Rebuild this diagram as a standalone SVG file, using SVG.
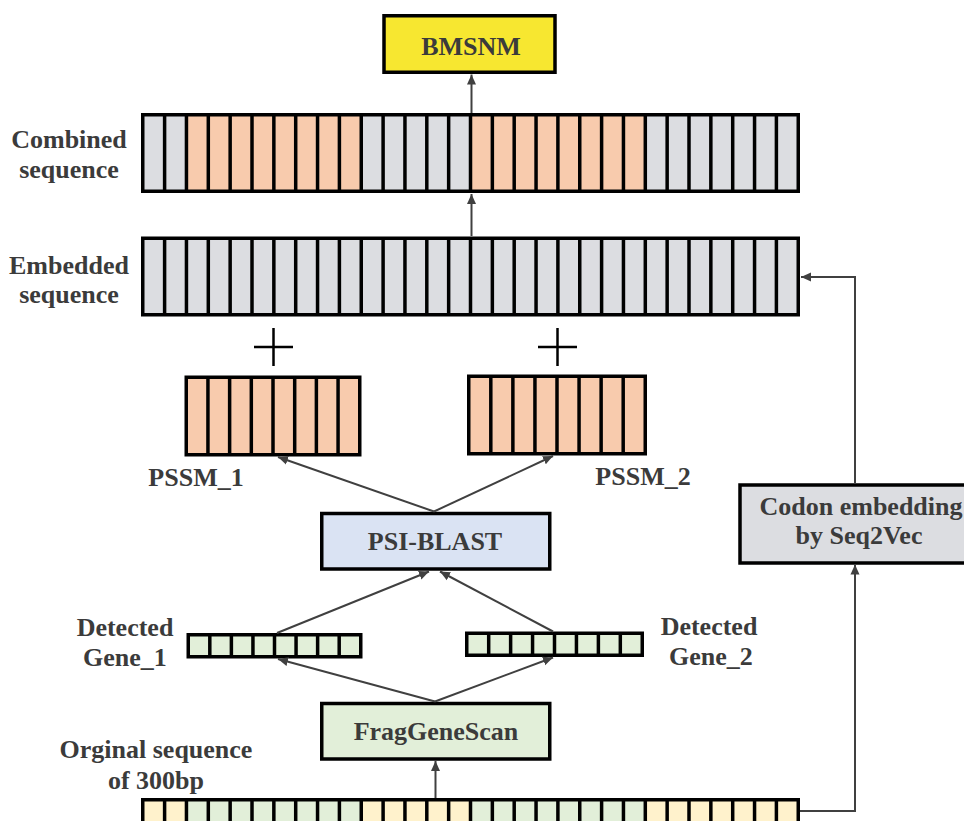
<svg xmlns="http://www.w3.org/2000/svg" width="964" height="821" viewBox="0 0 964 821">
<defs>
<style>
text{font-family:"Liberation Serif","Times New Roman",serif;font-weight:bold;font-size:26px;fill:#3b3b3b;text-anchor:middle}
.frame{fill:#000}
.gy{fill:#dcdde1}
.pc{fill:#f8cbad}
.gr{fill:#e2efd9}
.yl{fill:#fff2cc}
.box{stroke:#000;stroke-width:3.5}
.conn{fill:none;stroke:#404040;stroke-width:2}
.plus{stroke:#000;stroke-width:2.5}
</style>
<marker id="arr" viewBox="0 0 10 10" refX="10" refY="5" markerWidth="10" markerHeight="10" markerUnits="userSpaceOnUse" orient="auto">
<path d="M0,0.5 L10,5 L0,9.5 z" fill="#404040"/>
</marker>
</defs>
<rect width="964" height="821" fill="#fff"/>

<g id="bmsnm">
<rect class="box" x="384" y="15.75" width="171" height="56.5" fill="#f7e730"/>
<text x="471" y="55">BMSNM</text>
</g>

<g id="combined-sequence">
<rect class="frame" x="141" y="113" width="659" height="80"/>
<g transform="translate(0,116.5)">
<rect class="gy" x="144.5" width="18.35" height="73"/>
<rect class="gy" x="166.35" width="18.35" height="73"/>
<rect class="pc" x="188.2" width="18.35" height="73"/>
<rect class="pc" x="210.05" width="18.35" height="73"/>
<rect class="pc" x="231.9" width="18.35" height="73"/>
<rect class="pc" x="253.75" width="18.35" height="73"/>
<rect class="pc" x="275.6" width="18.35" height="73"/>
<rect class="pc" x="297.45" width="18.35" height="73"/>
<rect class="pc" x="319.3" width="18.35" height="73"/>
<rect class="pc" x="341.15" width="18.35" height="73"/>
<rect class="gy" x="363" width="18.35" height="73"/>
<rect class="gy" x="384.85" width="18.35" height="73"/>
<rect class="gy" x="406.7" width="18.35" height="73"/>
<rect class="gy" x="428.55" width="18.35" height="73"/>
<rect class="gy" x="450.4" width="18.35" height="73"/>
<rect class="pc" x="472.25" width="18.35" height="73"/>
<rect class="pc" x="494.1" width="18.35" height="73"/>
<rect class="pc" x="515.95" width="18.35" height="73"/>
<rect class="pc" x="537.8" width="18.35" height="73"/>
<rect class="pc" x="559.65" width="18.35" height="73"/>
<rect class="pc" x="581.5" width="18.35" height="73"/>
<rect class="pc" x="603.35" width="18.35" height="73"/>
<rect class="pc" x="625.2" width="18.35" height="73"/>
<rect class="gy" x="647.05" width="18.35" height="73"/>
<rect class="gy" x="668.9" width="18.35" height="73"/>
<rect class="gy" x="690.75" width="18.35" height="73"/>
<rect class="gy" x="712.6" width="18.35" height="73"/>
<rect class="gy" x="734.45" width="18.35" height="73"/>
<rect class="gy" x="756.3" width="18.35" height="73"/>
<rect class="gy" x="778.15" width="18.35" height="73"/>
</g>
<text x="69" y="148">Combined</text>
<text x="69" y="178">sequence</text>
</g>

<g id="embedded-sequence">
<rect class="frame" x="141" y="236.5" width="659" height="80"/>
<g transform="translate(0,240)">
<rect class="gy" x="144.5" width="18.35" height="73"/>
<rect class="gy" x="166.35" width="18.35" height="73"/>
<rect class="gy" x="188.2" width="18.35" height="73"/>
<rect class="gy" x="210.05" width="18.35" height="73"/>
<rect class="gy" x="231.9" width="18.35" height="73"/>
<rect class="gy" x="253.75" width="18.35" height="73"/>
<rect class="gy" x="275.6" width="18.35" height="73"/>
<rect class="gy" x="297.45" width="18.35" height="73"/>
<rect class="gy" x="319.3" width="18.35" height="73"/>
<rect class="gy" x="341.15" width="18.35" height="73"/>
<rect class="gy" x="363" width="18.35" height="73"/>
<rect class="gy" x="384.85" width="18.35" height="73"/>
<rect class="gy" x="406.7" width="18.35" height="73"/>
<rect class="gy" x="428.55" width="18.35" height="73"/>
<rect class="gy" x="450.4" width="18.35" height="73"/>
<rect class="gy" x="472.25" width="18.35" height="73"/>
<rect class="gy" x="494.1" width="18.35" height="73"/>
<rect class="gy" x="515.95" width="18.35" height="73"/>
<rect class="gy" x="537.8" width="18.35" height="73"/>
<rect class="gy" x="559.65" width="18.35" height="73"/>
<rect class="gy" x="581.5" width="18.35" height="73"/>
<rect class="gy" x="603.35" width="18.35" height="73"/>
<rect class="gy" x="625.2" width="18.35" height="73"/>
<rect class="gy" x="647.05" width="18.35" height="73"/>
<rect class="gy" x="668.9" width="18.35" height="73"/>
<rect class="gy" x="690.75" width="18.35" height="73"/>
<rect class="gy" x="712.6" width="18.35" height="73"/>
<rect class="gy" x="734.45" width="18.35" height="73"/>
<rect class="gy" x="756.3" width="18.35" height="73"/>
<rect class="gy" x="778.15" width="18.35" height="73"/>
</g>
<text x="69" y="274">Embedded</text>
<text x="69" y="303">sequence</text>
</g>

<g id="plus-1">
<line class="plus" x1="254" y1="347" x2="293" y2="347"/>
<line class="plus" x1="273.5" y1="328" x2="273.5" y2="366"/>
</g>
<g id="plus-2">
<line class="plus" x1="538" y1="347" x2="577" y2="347"/>
<line class="plus" x1="557.5" y1="328" x2="557.5" y2="366"/>
</g>

<g id="pssm-1">
<rect class="frame" x="184.5" y="375.5" width="177" height="81"/>
<g transform="translate(0,379)">
<rect class="pc" x="188" width="18.19" height="74"/>
<rect class="pc" x="209.69" width="18.19" height="74"/>
<rect class="pc" x="231.38" width="18.19" height="74"/>
<rect class="pc" x="253.06" width="18.19" height="74"/>
<rect class="pc" x="274.75" width="18.19" height="74"/>
<rect class="pc" x="296.44" width="18.19" height="74"/>
<rect class="pc" x="318.13" width="18.19" height="74"/>
<rect class="pc" x="339.81" width="18.19" height="74"/>
</g>
<text x="196" y="486">PSSM_1</text>
</g>

<g id="pssm-2">
<rect class="frame" x="467" y="374.5" width="180" height="81"/>
<g transform="translate(0,378)">
<rect class="pc" x="470.5" width="18.56" height="74"/>
<rect class="pc" x="492.56" width="18.56" height="74"/>
<rect class="pc" x="514.63" width="18.56" height="74"/>
<rect class="pc" x="536.69" width="18.56" height="74"/>
<rect class="pc" x="558.75" width="18.56" height="74"/>
<rect class="pc" x="580.81" width="18.56" height="74"/>
<rect class="pc" x="602.88" width="18.56" height="74"/>
<rect class="pc" x="624.94" width="18.56" height="74"/>
</g>
<text x="643" y="485">PSSM_2</text>
</g>

<g id="psi-blast">
<rect class="box" x="321.75" y="513.5" width="228" height="55.5" fill="#dae3f3"/>
<text x="435" y="550">PSI-BLAST</text>
</g>

<g id="codon-embedding">
<rect class="box" x="740" y="485" width="240" height="78" fill="#dcdde1"/>
<text x="861" y="515">Codon embedding</text>
<text x="859" y="544">by Seq2Vec</text>
</g>

<g id="gene-1">
<rect class="frame" x="186.5" y="633" width="176" height="25.5"/>
<g transform="translate(0,636.5)">
<rect class="gr" x="190" width="18.06" height="18.5"/>
<rect class="gr" x="211.56" width="18.06" height="18.5"/>
<rect class="gr" x="233.13" width="18.06" height="18.5"/>
<rect class="gr" x="254.69" width="18.06" height="18.5"/>
<rect class="gr" x="276.25" width="18.06" height="18.5"/>
<rect class="gr" x="297.81" width="18.06" height="18.5"/>
<rect class="gr" x="319.38" width="18.06" height="18.5"/>
<rect class="gr" x="340.94" width="18.06" height="18.5"/>
</g>
<text x="125" y="636">Detected</text>
<text x="125" y="666">Gene_1</text>
</g>

<g id="gene-2">
<rect class="frame" x="465" y="631.5" width="179" height="25.5"/>
<g transform="translate(0,635)">
<rect class="gr" x="468.5" width="18.44" height="18.5"/>
<rect class="gr" x="490.44" width="18.44" height="18.5"/>
<rect class="gr" x="512.38" width="18.44" height="18.5"/>
<rect class="gr" x="534.31" width="18.44" height="18.5"/>
<rect class="gr" x="556.25" width="18.44" height="18.5"/>
<rect class="gr" x="578.19" width="18.44" height="18.5"/>
<rect class="gr" x="600.13" width="18.44" height="18.5"/>
<rect class="gr" x="622.06" width="18.44" height="18.5"/>
</g>
<text x="709" y="635">Detected</text>
<text x="711" y="665">Gene_2</text>
</g>

<g id="fraggenescan">
<rect class="box" x="321.75" y="703.5" width="228" height="55.5" fill="#e2efd9"/>
<text x="436" y="740">FragGeneScan</text>
</g>

<g id="original-sequence">
<rect class="frame" x="141" y="798" width="659" height="40"/>
<g transform="translate(0,801.5)">
<rect class="yl" x="144.5" width="18.35" height="40"/>
<rect class="yl" x="166.35" width="18.35" height="40"/>
<rect class="gr" x="188.2" width="18.35" height="40"/>
<rect class="gr" x="210.05" width="18.35" height="40"/>
<rect class="gr" x="231.9" width="18.35" height="40"/>
<rect class="gr" x="253.75" width="18.35" height="40"/>
<rect class="gr" x="275.6" width="18.35" height="40"/>
<rect class="gr" x="297.45" width="18.35" height="40"/>
<rect class="gr" x="319.3" width="18.35" height="40"/>
<rect class="gr" x="341.15" width="18.35" height="40"/>
<rect class="yl" x="363" width="18.35" height="40"/>
<rect class="yl" x="384.85" width="18.35" height="40"/>
<rect class="yl" x="406.7" width="18.35" height="40"/>
<rect class="yl" x="428.55" width="18.35" height="40"/>
<rect class="yl" x="450.4" width="18.35" height="40"/>
<rect class="gr" x="472.25" width="18.35" height="40"/>
<rect class="gr" x="494.1" width="18.35" height="40"/>
<rect class="gr" x="515.95" width="18.35" height="40"/>
<rect class="gr" x="537.8" width="18.35" height="40"/>
<rect class="gr" x="559.65" width="18.35" height="40"/>
<rect class="gr" x="581.5" width="18.35" height="40"/>
<rect class="gr" x="603.35" width="18.35" height="40"/>
<rect class="gr" x="625.2" width="18.35" height="40"/>
<rect class="yl" x="647.05" width="18.35" height="40"/>
<rect class="yl" x="668.9" width="18.35" height="40"/>
<rect class="yl" x="690.75" width="18.35" height="40"/>
<rect class="yl" x="712.6" width="18.35" height="40"/>
<rect class="yl" x="734.45" width="18.35" height="40"/>
<rect class="yl" x="756.3" width="18.35" height="40"/>
<rect class="yl" x="778.15" width="18.35" height="40"/>
</g>
<text x="156" y="758">Orginal sequence</text>
<text x="156" y="789">of 300bp</text>
</g>

<g id="connectors">
<line class="conn" x1="471.5" y1="113" x2="471.5" y2="74.5" marker-end="url(#arr)"/>
<line class="conn" x1="471.5" y1="236" x2="471.5" y2="194" marker-end="url(#arr)"/>
<path class="conn" d="M855,483 V277 H801" marker-end="url(#arr)"/>
<path class="conn" d="M800,811 H855 V564.5" marker-end="url(#arr)"/>
<line class="conn" x1="435.5" y1="798" x2="435.5" y2="761" marker-end="url(#arr)"/>
<line class="conn" x1="435" y1="701.5" x2="278" y2="659" marker-end="url(#arr)"/>
<line class="conn" x1="435" y1="701.5" x2="553" y2="657.5" marker-end="url(#arr)"/>
<line class="conn" x1="277" y1="633" x2="429" y2="571.5" marker-end="url(#arr)"/>
<line class="conn" x1="553" y1="631.5" x2="440" y2="571.5" marker-end="url(#arr)"/>
<line class="conn" x1="434" y1="511.5" x2="278" y2="457" marker-end="url(#arr)"/>
<line class="conn" x1="434" y1="511.5" x2="553" y2="456" marker-end="url(#arr)"/>
</g>
</svg>
